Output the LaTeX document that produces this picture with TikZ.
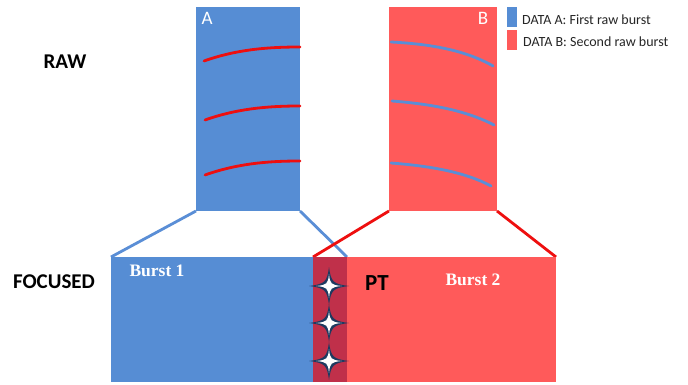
\documentclass[tikz,border=0pt]{standalone}
\usepackage{fontspec}
\setmainfont{Carlito}
\newfontfamily\timesf{Liberation Serif}
\definecolor{boxblue}{HTML}{568DD4}
\definecolor{boxred}{HTML}{FF5A5A}
\definecolor{overlap}{HTML}{C0304A}
\definecolor{linered}{HTML}{EE0F0F}
\definecolor{lineblue}{HTML}{5A8ED6}
\definecolor{navy}{HTML}{1E3A60}
\tikzset{
  funnelblue/.style={draw=lineblue, line width=2.8pt},
  funnelred/.style={draw=linered, line width=2.8pt},
  streakred/.style={draw=linered, line width=2.8pt, line cap=round},
  streakblue/.style={draw=lineblue, line width=2.8pt, line cap=round},
  rowlabel/.style={font=\bfseries\fontsize{21}{24}\selectfont, text=black, inner sep=0pt},
  burstlabel/.style={font=\timesf\bfseries\fontsize{17.5}{20}\selectfont, text=white, inner sep=0pt},
  letterlabel/.style={font=\fontsize{19}{22}\selectfont, text=white, inner sep=0pt},
  legendtext/.style={font=\fontsize{14}{16}\selectfont, text=black!85, inner sep=0pt, anchor=west},
  sparkle/.pic={
    \fill[navy] (0,-19) .. controls (2,-4) and (4,-2) .. (20,0)
      .. controls (4,2) and (2,4) .. (0,19)
      .. controls (-2,4) and (-4,2) .. (-20,0)
      .. controls (-4,-2) and (-2,-4) .. cycle;
    \fill[white] (0,-12) .. controls (1,-2) and (2,-1) .. (13,0)
      .. controls (2,1) and (1,2) .. (0,12)
      .. controls (-1,2) and (-2,1) .. (-13,0)
      .. controls (-2,-1) and (-1,-2) .. cycle;
  }
}
\begin{document}
\begin{tikzpicture}[x=1pt,y=-1pt]
\useasboundingbox[fill=white] (0,0) rectangle (688,385);
% raw boxes
\fill[boxblue] (196,7) rectangle (300,211);
\fill[boxred] (389,7) rectangle (497,211);
\coordinate (A-bl) at (196,211);
\coordinate (A-br) at (300,211);
\coordinate (B-bl) at (389,211);
\coordinate (B-br) at (497,211);
% streaks
\draw[streakred] (204,61) .. controls (235,50) and (265,47) .. (300,47);
\draw[streakred] (205,120) .. controls (236,109) and (266,106) .. (300,106);
\draw[streakred] (205,175) .. controls (236,164) and (266,161) .. (300,161);
\draw[streakblue] (391,42) .. controls (430,44) and (465,50) .. (493,66);
\draw[streakblue] (392,101) .. controls (430,104) and (465,110) .. (494,125);
\draw[streakblue] (391,163) .. controls (430,166) and (465,172) .. (491,186);
% focused boxes
\coordinate (F1-tl) at (111,257);
\coordinate (F1-tr) at (347,257);
\coordinate (F2-tl) at (313,257);
\coordinate (F2-tr) at (556,257);
\draw[funnelblue] (A-bl) -- (F1-tl);
\draw[funnelblue] (A-br) -- (F1-tr);
\draw[funnelred] (B-bl) -- (F2-tl);
\draw[funnelred] (B-br) -- (F2-tr);
\fill[boxblue] (111,257) rectangle (313,382);
\fill[boxred] (347,257) rectangle (556,382);
\fill[overlap] (313,257) rectangle (347,382);
% sparkles
\pic at (329,286) {sparkle};
\pic at (329,323) {sparkle};
\pic at (329,361) {sparkle};
% labels
\node[letterlabel] (la) at (207,18) {A};
\node[letterlabel] (lb) at (483,18) {B};
\node[rowlabel] (raw) at (65,62) {RAW};
\node[rowlabel] (foc) at (54,282) {FOCUSED};
\node[burstlabel] (b1) at (157,271) {Burst 1};
\node[burstlabel] (b2) at (473,280) {Burst 2};
\node[rowlabel, font=\bfseries\fontsize{23}{26}\selectfont] (pt) at (377,283) {PT};
% legend
\fill[boxblue] (507,7) rectangle (517,27);
\fill[boxred] (507,30) rectangle (517,50);
\node[legendtext] (lga) at (522,20) {DATA A: First raw burst};
\node[legendtext] (lgb) at (523,42) {DATA B: Second raw burst};
\end{tikzpicture}
\end{document}
